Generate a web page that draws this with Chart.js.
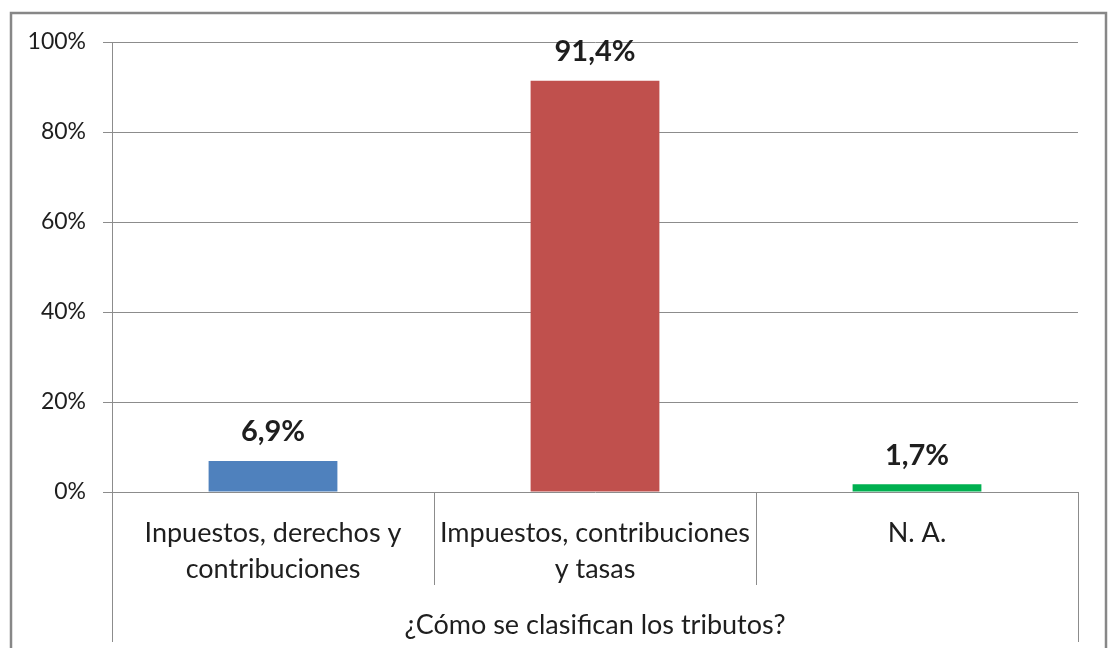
<!DOCTYPE html>
<html>
<head>
<meta charset="utf-8">
<script src="https://cdn.jsdelivr.net/npm/chart.js@4"></script>
<style>
  body { margin: 0; background: #fff; }
  #wrap { width: 1108px; height: 648px; }
</style>
</head>
<body>
<div id="wrap"><canvas id="tributosChart" width="1108" height="648"></canvas></div>
<script>
// Data
const categories = [['Inpuestos, derechos y', 'contribuciones'], ['Impuestos, contribuciones', 'y tasas'], ['N. A.']];
const values = [6.9, 91.4, 1.7];
const barColors = ['#4F81BD', '#C0504D', '#00B050'];
const yTicks = [0, 20, 40, 60, 80, 100];
const axisTitle = '¿Cómo se clasifican los tributos?';

const FONT = 'Lato, "Open Sans", sans-serif';
const TEXT = '#1e1e1e';
const GRID = '#8c8c8c';

// frame, category separators, group title, value labels
const excelBits = {
  id: 'excelBits',
  afterDraw(chart) {
    const c = chart.ctx;
    const area = chart.chartArea;
    const n = categories.length;
    const step = (area.right - area.left) / n;

    c.save();
    c.strokeStyle = '#878787';
    c.lineWidth = 2.5;
    c.strokeRect(11, 13, 1095, 660);

    c.strokeStyle = GRID;
    c.lineWidth = 1;
    for (let i = 0; i <= n; i++) {
      const px = Math.round(area.left + i * step) + 0.5;
      const end = (i === 0 || i === n) ? 642 : 585;
      c.beginPath();
      c.moveTo(px, area.bottom);
      c.lineTo(px, end);
      c.stroke();
    }

    c.fillStyle = TEXT;
    c.font = '27px ' + FONT;
    c.textAlign = 'center';
    c.textBaseline = 'middle';
    c.fillText(axisTitle, (area.left + area.right) / 2, 625);

    c.font = 'bold 29px ' + FONT;
    chart.getDatasetMeta(0).data.forEach((bar, i) => {
      const txt = values[i].toFixed(1).replace('.', ',') + '%';
      c.fillText(txt, bar.x, bar.y - 29);
    });
    c.restore();
  }
};

new Chart(document.getElementById('tributosChart'), {
  type: 'bar',
  data: {
    labels: categories,
    datasets: [{
      data: values,
      backgroundColor: barColors,
      borderWidth: 0,
      categoryPercentage: 1,
      barPercentage: 0.4
    }]
  },
  options: {
    responsive: false,
    animation: false,
    layout: { padding: { left: 0, top: 42, right: 30, bottom: 0 } },
    plugins: { legend: { display: false }, tooltip: { enabled: false } },
    scales: {
      x: {
        grid: { display: false, drawTicks: false },
        border: { display: false },
        ticks: { font: { family: FONT, size: 27, lineHeight: 1.33 }, color: TEXT, padding: 23, maxRotation: 0, autoSkip: false },
        afterFit(scale) { scale.height = 156; }
      },
      y: {
        min: 0,
        max: 100,
        afterBuildTicks(scale) { scale.ticks = yTicks.map(v => ({ value: v })); },
        grid: { color: GRID, lineWidth: 1, tickLength: 9 },
        border: { display: true, color: GRID, width: 1 },
        ticks: {
          font: { family: FONT, size: 23 },
          color: TEXT,
          padding: 17,
          callback: v => v + '%'
        },
        afterFit(scale) { scale.width = 112; }
      }
    }
  },
  plugins: [excelBits]
});
</script>
</body>
</html>
